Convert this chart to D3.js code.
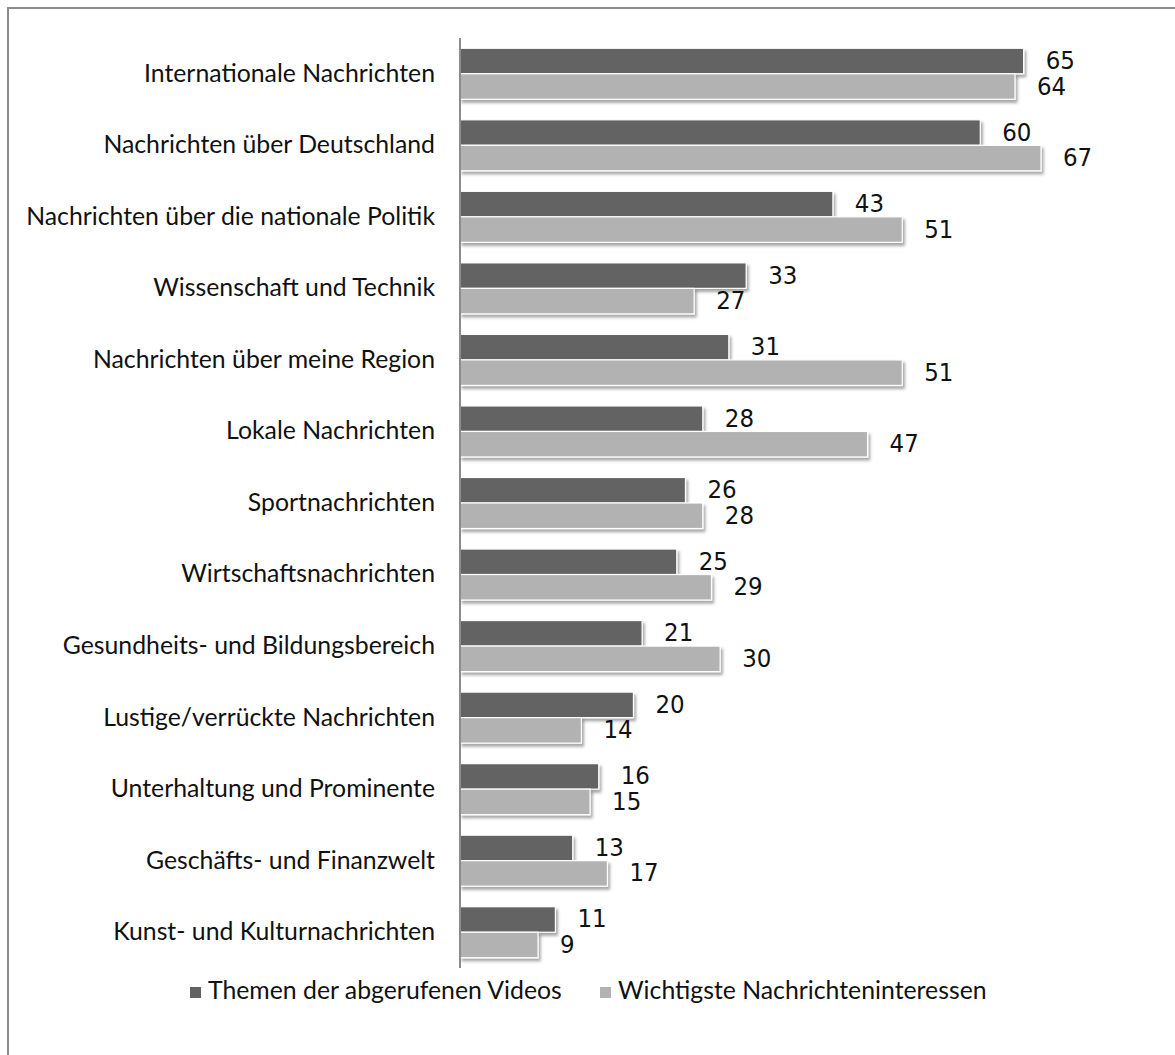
<!DOCTYPE html>
<html>
<head>
<meta charset="utf-8">
<script src="https://cdn.jsdelivr.net/npm/d3@7"></script>
<style>
  html, body { margin: 0; padding: 0; background: #fff; }
  svg { display: block; }
</style>
</head>
<body>
<svg id="chart" width="1175" height="1055"></svg>
<script>
// Themen: abgerufene Videos vs. wichtigste Nachrichteninteressen (in %)
const categories = [
  "Internationale Nachrichten",
  "Nachrichten über Deutschland",
  "Nachrichten über die nationale Politik",
  "Wissenschaft und Technik",
  "Nachrichten über meine Region",
  "Lokale Nachrichten",
  "Sportnachrichten",
  "Wirtschaftsnachrichten",
  "Gesundheits- und Bildungsbereich",
  "Lustige/verrückte Nachrichten",
  "Unterhaltung und Prominente",
  "Geschäfts- und Finanzwelt",
  "Kunst- und Kulturnachrichten"
];
const videoThemen = [65, 60, 43, 33, 31, 28, 26, 25, 21, 20, 16, 13, 11];
const nachrichtenInteressen = [64, 67, 51, 27, 51, 47, 28, 29, 30, 14, 15, 17, 9];
const seriesNames = ["Themen der abgerufenen Videos", "Wichtigste Nachrichteninteressen"];
const seriesColors = ["#636363", "#b2b2b2"];

const rows = categories.map((c, i) => ({ cat: c, values: [videoThemen[i], nachrichtenInteressen[i]] }));

const svg = d3.select("#chart");
const labelFont = "Lato, 'Open Sans', sans-serif";
const numFont = "'DejaVu Sans Condensed', 'Liberation Sans Narrow', sans-serif";

// outer frame
svg.append("rect")
  .attr("x", 8).attr("y", 8)
  .attr("width", 1200).attr("height", 1100)
  .attr("fill", "none").attr("stroke", "#8c8c8c").attr("stroke-width", 2);

// soft drop shadow for bars
const defs = svg.append("defs");
const f = defs.append("filter").attr("id", "shadow")
  .attr("x", "-5%").attr("y", "-30%").attr("width", "115%").attr("height", "180%");
f.append("feDropShadow").attr("dx", 2).attr("dy", 3).attr("stdDeviation", 1.6)
  .attr("flood-color", "#000").attr("flood-opacity", 0.35);

const x = d3.scaleLinear().domain([0, 70]).range([460, 1067]);
const y = d3.scaleBand().domain(categories).range([38, 968]).paddingInner(0.287).paddingOuter(0.1435);
const ySub = d3.scaleBand().domain([0, 1]).range([0, y.bandwidth()]);

const groups = svg.append("g").selectAll("g")
  .data(rows).join("g")
  .attr("transform", d => `translate(0,${y(d.cat)})`);

groups.selectAll("rect")
  .data(d => d.values.map((v, k) => ({ v, k })))
  .join("rect")
  .attr("x", x(0))
  .attr("y", d => ySub(d.k))
  .attr("width", d => x(d.v) - x(0))
  .attr("height", ySub.bandwidth())
  .attr("fill", d => seriesColors[d.k])
  .attr("stroke", "#fff").attr("stroke-width", 1.2)
  .attr("filter", "url(#shadow)");

groups.selectAll("text.val")
  .data(d => d.values.map((v, k) => ({ v, k })))
  .join("text")
  .attr("class", "val")
  .attr("x", d => x(d.v) + 22)
  .attr("y", d => ySub(d.k) + ySub.bandwidth() / 2 + 1)
  .attr("dominant-baseline", "middle")
  .attr("font-family", numFont)
  .attr("font-size", 25.5)
  .attr("fill", "#111")
  .text(d => d.v);

// category axis
const axis = d3.axisLeft(y).tickSize(0).tickPadding(25);
const gAxis = svg.append("g").attr("transform", `translate(${x(0)},0)`).call(axis);
gAxis.select(".domain").attr("stroke", "#8c8c8c").attr("stroke-width", 2)
  .attr("d", `M0,38V968`);
gAxis.selectAll(".tick text")
  .attr("font-family", labelFont).attr("font-size", 24.8).attr("fill", "#111");

// legend
const legend = svg.append("g");
const legendX = [190, 600];
seriesNames.forEach((name, k) => {
  legend.append("rect").attr("x", legendX[k]).attr("y", 987)
    .attr("width", 11).attr("height", 11).attr("fill", seriesColors[k]);
  legend.append("text").attr("x", legendX[k] + 18).attr("y", 993)
    .attr("dominant-baseline", "middle")
    .attr("font-family", labelFont).attr("font-size", 24.8).attr("fill", "#111")
    .text(name);
});
</script>
</body>
</html>
